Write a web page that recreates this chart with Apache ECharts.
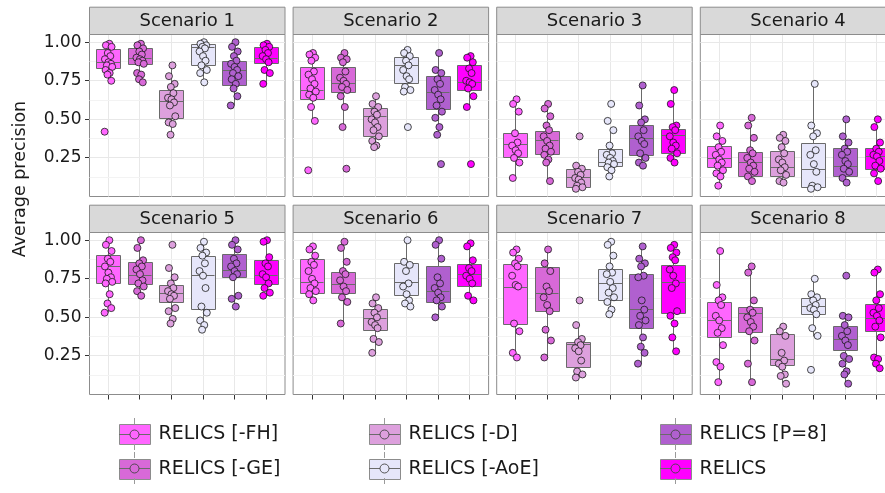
<!DOCTYPE html>
<html><head><meta charset="utf-8">
<script src="https://cdn.jsdelivr.net/npm/echarts/dist/echarts.min.js"></script>
<style>html,body{margin:0;padding:0;background:#fff}#c{width:885px;height:493px}</style>
</head><body><div id="c"></div>
<script>
// ---------------- data ----------------
const METHODS = ['RELICS [-FH]', 'RELICS [-GE]', 'RELICS [-D]', 'RELICS [-AoE]', 'RELICS [P=8]', 'RELICS'];
const SCENARIOS = ['Scenario 1', 'Scenario 2', 'Scenario 3', 'Scenario 4', 'Scenario 5', 'Scenario 6', 'Scenario 7', 'Scenario 8'];
const Y_TICKS = [0.25, 0.5, 0.75, 1.0];
const Y_MINOR = [0.125, 0.375, 0.625, 0.875];
const Y_TITLE = 'Average precision';

// box stats per method: [lower whisker, Q1, median, Q3, upper whisker]
const BOX_S1 = [[0.75,0.826,0.868,0.95,0.99],[0.74,0.86,0.893,0.961,0.99],[0.40,0.505,0.614,0.687,0.85],[0.74,0.854,0.965,0.987,1.0],[0.59,0.719,0.818,0.875,1.0],[0.73,0.86,0.897,0.965,0.99]];
const BOX_S2 = [[0.49,0.629,0.689,0.837,0.933],[0.453,0.672,0.730,0.837,0.933],[0.319,0.387,0.518,0.569,0.646],[0.682,0.730,0.848,0.901,0.955],[0.398,0.565,0.672,0.779,0.933],[0.576,0.687,0.741,0.849,0.912]];
const BOX_S3 = [[0.119,0.254,0.336,0.409,0.633],[0.104,0.271,0.361,0.419,0.597],[0.05,0.06,0.12,0.175,0.205],[0.132,0.196,0.223,0.303,0.426],[0.201,0.265,0.376,0.458,0.719],[0.222,0.282,0.394,0.436,0.693]];
const BOX_S4 = [[0.072,0.19,0.244,0.323,0.458],[0.094,0.132,0.222,0.287,0.511],[0.089,0.132,0.19,0.291,0.398],[0.05,0.061,0.175,0.344,0.729],[0.089,0.132,0.194,0.314,0.504],[0.104,0.173,0.261,0.312,0.505]];
const BOX_S5 = [[0.531,0.719,0.830,0.900,1.0],[0.638,0.712,0.772,0.857,1.0],[0.461,0.596,0.653,0.706,0.815],[0.418,0.548,0.770,0.893,0.989],[0.574,0.759,0.802,0.908,1.0],[0.638,0.712,0.772,0.869,1.0]];
const BOX_S6 = [[0.609,0.655,0.729,0.878,0.963],[0.457,0.659,0.712,0.793,0.989],[0.265,0.420,0.495,0.553,0.627],[0.568,0.644,0.723,0.851,1.0],[0.504,0.599,0.670,0.830,1.0],[0.609,0.702,0.780,0.844,0.979]];
const BOX_S7 = [[0.239,0.457,0.695,0.844,0.942],[0.239,0.537,0.655,0.825,0.942],[0.109,0.175,0.322,0.335,0.452],[0.520,0.610,0.717,0.808,0.989],[0.197,0.431,0.548,0.780,0.958],[0.276,0.520,0.723,0.834,0.972]];
const BOX_S8 = [[0.084,0.365,0.482,0.595,0.929],[0.077,0.403,0.527,0.563,0.829],[0.073,0.190,0.229,0.388,0.435],[0.376,0.516,0.570,0.621,0.748],[0.07,0.286,0.354,0.442,0.510],[0.173,0.407,0.493,0.584,0.813]];

// individual points per method
const PTS_S1 = [
  [0.99,0.98,0.97,0.93,0.91,0.89,0.87,0.86,0.85,0.84,0.82,0.80,0.79,0.75,0.42],
  [0.99,0.98,0.96,0.94,0.92,0.90,0.89,0.88,0.87,0.86,0.80,0.79,0.76,0.74],
  [0.85,0.78,0.73,0.71,0.67,0.64,0.63,0.61,0.59,0.52,0.48,0.47,0.40],
  [1.0,0.99,0.98,0.97,0.96,0.94,0.91,0.88,0.85,0.82,0.80,0.74],
  [1.0,0.97,0.94,0.91,0.88,0.86,0.84,0.82,0.80,0.78,0.76,0.73,0.70,0.65,0.59],
  [0.99,0.98,0.97,0.95,0.93,0.91,0.89,0.87,0.82,0.80,0.73]];
const PTS_S2 = [
  [0.93,0.92,0.90,0.88,0.81,0.79,0.76,0.73,0.70,0.68,0.66,0.64,0.58,0.49,0.17],
  [0.93,0.90,0.89,0.87,0.81,0.77,0.75,0.73,0.71,0.69,0.65,0.58,0.45,0.18],
  [0.65,0.60,0.58,0.55,0.53,0.50,0.48,0.45,0.43,0.39,0.36,0.33,0.32],
  [0.95,0.93,0.91,0.88,0.85,0.82,0.78,0.76,0.71,0.69,0.68,0.45],
  [0.93,0.82,0.80,0.76,0.73,0.69,0.66,0.63,0.59,0.55,0.51,0.45,0.40,0.21],
  [0.91,0.90,0.87,0.83,0.80,0.75,0.74,0.73,0.70,0.65,0.58,0.21]];
const PTS_S3 = [
  [0.63,0.60,0.55,0.41,0.35,0.33,0.30,0.28,0.25,0.22,0.12],
  [0.60,0.57,0.52,0.46,0.43,0.39,0.36,0.33,0.31,0.29,0.27,0.24,0.22,0.10],
  [0.39,0.20,0.18,0.16,0.14,0.12,0.11,0.09,0.07,0.06,0.05],
  [0.60,0.49,0.43,0.33,0.28,0.27,0.25,0.23,0.22,0.21,0.19,0.17,0.13],
  [0.72,0.59,0.50,0.48,0.43,0.39,0.36,0.34,0.28,0.25,0.22,0.20],
  [0.69,0.60,0.46,0.45,0.43,0.39,0.35,0.33,0.31,0.28,0.25,0.22]];
const PTS_S4 = [
  [0.46,0.39,0.36,0.32,0.29,0.27,0.24,0.22,0.20,0.17,0.15,0.13,0.07],
  [0.51,0.46,0.38,0.30,0.28,0.25,0.22,0.20,0.18,0.16,0.13,0.10],
  [0.40,0.38,0.36,0.32,0.28,0.24,0.22,0.19,0.17,0.14,0.10,0.09],
  [0.73,0.46,0.41,0.39,0.30,0.27,0.21,0.16,0.07,0.06,0.05],
  [0.50,0.39,0.35,0.31,0.29,0.27,0.23,0.21,0.18,0.16,0.12,0.09],
  [0.50,0.45,0.35,0.31,0.29,0.27,0.26,0.23,0.20,0.18,0.15,0.10]];
const PTS_S5 = [
  [1.0,0.97,0.93,0.88,0.86,0.83,0.79,0.76,0.75,0.73,0.72,0.65,0.59,0.56,0.53],
  [1.0,0.95,0.87,0.85,0.83,0.81,0.78,0.74,0.72,0.70,0.67,0.64],
  [0.97,0.82,0.76,0.72,0.69,0.67,0.65,0.64,0.62,0.56,0.54,0.49,0.46],
  [0.99,0.95,0.92,0.90,0.85,0.80,0.77,0.69,0.57,0.53,0.48,0.45,0.42],
  [1.0,0.97,0.94,0.88,0.85,0.83,0.80,0.78,0.76,0.64,0.62,0.57],
  [1.0,0.99,0.89,0.85,0.83,0.78,0.76,0.72,0.69,0.66,0.64]];
const PTS_S6 = [
  [0.96,0.94,0.90,0.86,0.84,0.80,0.75,0.72,0.69,0.67,0.65,0.61],
  [0.99,0.95,0.86,0.80,0.78,0.74,0.70,0.67,0.63,0.60,0.46],
  [0.63,0.59,0.56,0.53,0.50,0.47,0.45,0.43,0.36,0.34,0.27],
  [1.0,0.86,0.84,0.80,0.72,0.70,0.65,0.61,0.59,0.57],
  [1.0,0.97,0.88,0.76,0.72,0.69,0.66,0.63,0.61,0.57,0.50],
  [0.98,0.96,0.87,0.82,0.80,0.77,0.75,0.72,0.64,0.61]];
const PTS_S7 = [
  [0.94,0.92,0.88,0.85,0.83,0.77,0.71,0.70,0.46,0.41,0.27,0.24],
  [0.94,0.85,0.80,0.70,0.67,0.63,0.58,0.54,0.42,0.35,0.24],
  [0.61,0.45,0.36,0.34,0.32,0.30,0.28,0.22,0.15,0.13,0.11],
  [0.99,0.97,0.90,0.83,0.79,0.78,0.73,0.69,0.66,0.63,0.60,0.55,0.52],
  [0.96,0.88,0.85,0.83,0.77,0.76,0.61,0.55,0.51,0.48,0.45,0.37,0.31,0.27,0.20],
  [0.97,0.95,0.92,0.89,0.87,0.81,0.77,0.72,0.69,0.54,0.51,0.46,0.37,0.28]];
const PTS_S8 = [
  [0.93,0.71,0.63,0.61,0.58,0.51,0.48,0.43,0.40,0.32,0.21,0.18,0.08],
  [0.83,0.79,0.61,0.55,0.53,0.50,0.47,0.44,0.41,0.35,0.20,0.08],
  [0.44,0.41,0.38,0.27,0.22,0.20,0.18,0.13,0.12,0.07],
  [0.75,0.65,0.63,0.61,0.58,0.56,0.55,0.52,0.43,0.38,0.16],
  [0.77,0.51,0.50,0.45,0.41,0.38,0.35,0.32,0.25,0.23,0.20,0.15,0.13,0.07],
  [0.81,0.79,0.65,0.61,0.56,0.53,0.51,0.48,0.44,0.37,0.24,0.23,0.20,0.17]];

// ---------------- style / layout ----------------
const COLORS = ['#FF66FF', '#D869D8', '#DDA0DD', '#E6E6FA', '#B060CF', '#FF00FF'];
const FONT = '"DejaVu Sans", "Liberation Sans", sans-serif';
const TXT = '#1a1a1a';
const BORDER = '#8c8c8c';
const BOX_LINE = '#6a6a6a';
const GRID_MAJOR = '#E8E8E8', GRID_MINOR = '#F3F3F3';
const JIT = [0.03,-0.08,0.10,-0.02,0.06,-0.11,0.00,0.08,-0.05,0.12,-0.09,0.04,-0.03,0.09,-0.12,0.05,-0.06,0.02];
const GRID_L0 = 89.5, GRID_DX = 203.6, GRID_W = 195.5, GRID_H = 162;
const ROW_TOP = [34.5, 232.5], STRIP_H = 27.3;
const Y_MIN = 0, Y_MAX = 1.05, X_MIN = 0.4, X_MAX = 6.6, BOX_HALF = 0.375;
const LEG_LEFT = [119, 369, 660], LEG_TOP = 424, KEY_W = 31, KEY_H = 20, LEG_GAP = 14;
const LEG_COLS = [[0, 1], [2, 3], [4, 5]];

const BOXES = [BOX_S1, BOX_S2, BOX_S3, BOX_S4, BOX_S5, BOX_S6, BOX_S7, BOX_S8];
const PTS = [PTS_S1, PTS_S2, PTS_S3, PTS_S4, PTS_S5, PTS_S6, PTS_S7, PTS_S8];

const snap = v => Math.round(v - 0.5) + 0.5;
const grids = [], xAxes = [], yAxes = [], series = [], graphics = [];

SCENARIOS.forEach((scen, p) => {
  const col = p % 4, row = Math.floor(p / 4);
  const left = GRID_L0 + col * GRID_DX, top = ROW_TOP[row];
  grids.push({left, top, width: GRID_W, height: GRID_H, show: true, backgroundColor: '#fff',
    borderColor: BORDER, borderWidth: 1, containLabel: false, outerBoundsMode: 'none'});
  xAxes.push({gridIndex: p, type: 'value', min: X_MIN, max: X_MAX, show: false});
  yAxes.push({gridIndex: p, type: 'value', min: Y_MIN, max: Y_MAX, interval: 0.25,
    axisLine: {show: false}, axisTick: {show: false}, splitLine: {show: false},
    axisLabel: {show: col === 0, margin: 8, fontSize: 17, fontFamily: FONT, color: TXT,
      formatter: v => Y_TICKS.some(t => Math.abs(t - v) < 1e-6) ? v.toFixed(2) : ''}});

  // vertical guides + x ticks
  series.push({type: 'custom', xAxisIndex: p, yAxisIndex: p, silent: true, z: 1,
    data: METHODS.map((m, i) => [i + 1, 0]),
    renderItem: (params, api) => {
      const x = api.value(0);
      const t = api.coord([x, Y_MAX]), b = api.coord([x, Y_MIN]);
      const xs = snap(t[0]);
      const ch = [{type: 'line', shape: {x1: xs, y1: t[1], x2: xs, y2: b[1]}, style: {stroke: GRID_MAJOR, lineWidth: 1}}];
      if (row === 1) ch.push({type: 'line', shape: {x1: xs, y1: b[1] + 0.5, x2: xs, y2: b[1] + 5}, style: {stroke: '#333', lineWidth: 1}});
      return {type: 'group', children: ch};
    }});
  // horizontal guides + y ticks
  const hData = Y_MINOR.map(v => [X_MIN, v, 0]).concat(Y_TICKS.map(v => [X_MIN, v, 1]));
  series.push({type: 'custom', xAxisIndex: p, yAxisIndex: p, silent: true, z: 1,
    data: hData,
    renderItem: (params, api) => {
      const v = api.value(1), major = api.value(2) === 1;
      const a = api.coord([X_MIN, v]), b = api.coord([X_MAX, v]);
      const ys = snap(a[1]);
      const ch = [{type: 'line', shape: {x1: a[0], y1: ys, x2: b[0], y2: ys}, style: {stroke: major ? GRID_MAJOR : GRID_MINOR, lineWidth: 1}}];
      if (major && col === 0) ch.push({type: 'line', shape: {x1: a[0] - 4.5, y1: ys, x2: a[0] - 0.5, y2: ys}, style: {stroke: '#333', lineWidth: 1}});
      return {type: 'group', children: ch};
    }});

  METHODS.forEach((m, i) => {
    const bx = BOXES[p][i];
    series.push({type: 'custom', name: m, xAxisIndex: p, yAxisIndex: p, silent: true, z: 2,
      itemStyle: {color: COLORS[i]},
      encode: {x: 0, y: [1, 2, 3, 4, 5]},
      data: [[i + 1].concat(bx)],
      renderItem: (params, api) => {
        const x = api.value(0);
        const lo = api.coord([x, api.value(1)]), q1 = api.coord([x, api.value(2)]),
              md = api.coord([x, api.value(3)]), q3 = api.coord([x, api.value(4)]),
              hi = api.coord([x, api.value(5)]);
        const xl = api.coord([x - BOX_HALF, 0])[0], xr = api.coord([x + BOX_HALF, 0])[0];
        const xc = snap(lo[0]);
        const st = {stroke: BOX_LINE, lineWidth: 1};
        return {type: 'group', children: [
          {type: 'line', shape: {x1: xc, y1: lo[1], x2: xc, y2: q1[1]}, style: st},
          {type: 'line', shape: {x1: xc, y1: q3[1], x2: xc, y2: hi[1]}, style: st},
          {type: 'rect', shape: {x: snap(xl), y: snap(q3[1]), width: Math.round(xr - xl), height: Math.round(q1[1] - q3[1])},
            style: {fill: COLORS[i], stroke: BOX_LINE, lineWidth: 1}},
          {type: 'line', shape: {x1: snap(xl), y1: snap(md[1]), x2: snap(xr), y2: snap(md[1])}, style: st}
        ]};
      }});
    series.push({type: 'scatter', name: m, xAxisIndex: p, yAxisIndex: p, silent: true, z: 3,
      symbol: 'circle', symbolSize: 7,
      itemStyle: {color: COLORS[i], borderColor: '#1a1a1a', borderWidth: 0.8, opacity: 1},
      data: PTS[p][i].map((v, k) => [i + 1 + JIT[k % JIT.length], v])});
  });

  // facet strip
  graphics.push({type: 'rect', z: 50, shape: {x: left, y: top - STRIP_H, width: GRID_W, height: STRIP_H},
    style: {fill: '#D9D9D9', stroke: BORDER, lineWidth: 1}});
  graphics.push({type: 'text', z: 51, x: left + GRID_W / 2, y: top - STRIP_H / 2 + 0.5,
    style: {text: scen, fill: TXT, font: '18px ' + FONT, align: 'center', verticalAlign: 'middle',
      textAlign: 'center', textVerticalAlign: 'middle'}});
});

// y-axis title
graphics.push({type: 'text', z: 51, x: 20, y: 179, rotation: Math.PI / 2,
  style: {text: Y_TITLE, fill: TXT, font: '17.5px ' + FONT, align: 'center', verticalAlign: 'middle',
    textAlign: 'center', textVerticalAlign: 'middle'}});

// legends (one per column, filled column-wise) and key decorations
const legends = LEG_COLS.map((idx, c) => ({
  orient: 'vertical', left: LEG_LEFT[c], top: LEG_TOP, padding: 0,
  itemWidth: KEY_W, itemHeight: KEY_H, itemGap: LEG_GAP, icon: 'rect', selectedMode: false,
  itemStyle: {borderColor: BORDER, borderWidth: 1},
  textStyle: {fontSize: 19, fontFamily: FONT, color: TXT, lineHeight: 20, padding: [0, 0, 0, 3]},
  data: idx.map(i => METHODS[i])
}));
LEG_COLS.forEach((idx, c) => {
  idx.forEach((i, r) => {
    const kx = LEG_LEFT[c], ky = LEG_TOP + r * (KEY_H + LEG_GAP);
    const cx = snap(kx + KEY_W / 2), cy = snap(ky + KEY_H / 2);
    graphics.push({type: 'line', z: 60, shape: {x1: cx, y1: ky - 6, x2: cx, y2: ky}, style: {stroke: '#9a9a9a', lineWidth: 1}});
    graphics.push({type: 'line', z: 60, shape: {x1: cx, y1: ky + KEY_H, x2: cx, y2: ky + KEY_H + 6}, style: {stroke: '#9a9a9a', lineWidth: 1}});
    graphics.push({type: 'line', z: 60, shape: {x1: kx, y1: cy, x2: kx + KEY_W, y2: cy}, style: {stroke: BOX_LINE, lineWidth: 1}});
    graphics.push({type: 'circle', z: 61, shape: {cx: cx, cy: cy, r: 4.5}, style: {fill: COLORS[i], stroke: '#444', lineWidth: 0.9}});
  });
});

const chart = echarts.init(document.getElementById('c'), null, {renderer: 'canvas'});
chart.setOption({
  animation: false,
  backgroundColor: '#fff',
  grid: grids, xAxis: xAxes, yAxis: yAxes,
  legend: legends,
  series: series,
  graphic: graphics
});
</script></body></html>
